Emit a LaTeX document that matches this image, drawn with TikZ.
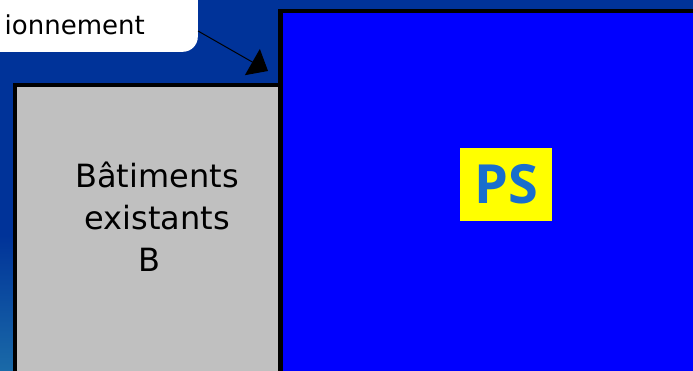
\documentclass[tikz,border=0pt]{standalone}
\usepackage{fontspec}
\setmainfont{DejaVu Sans}
\newfontfamily\signfont{Open Sans}
\usetikzlibrary{arrows.meta,positioning}

\definecolor{bgtop}{RGB}{0,51,153}
\definecolor{bgbot}{RGB}{26,106,168}
\definecolor{wallgrey}{RGB}{192,192,192}
\definecolor{plotblue}{RGB}{0,0,255}
\definecolor{signyellow}{RGB}{255,255,0}
\definecolor{signtext}{RGB}{25,110,205}

\begin{document}
\begin{tikzpicture}[
    x=1pt, y=-1pt,
    callbox/.style={fill=white, rounded corners=15pt, inner sep=0pt},
    bldg/.style={draw=black, line width=4.5pt, inner sep=0pt, outer sep=0pt},
    label text/.style={inner sep=0pt, font={\fontsize{26pt}{30pt}\selectfont}},
    bldg text/.style={inner sep=0pt, align=center, font={\fontsize{32pt}{42pt}\selectfont}},
    sign/.style={fill=signyellow, inner sep=0pt, text=signtext, font={\signfont\bfseries\fontsize{54pt}{60pt}\selectfont}},
    pointer/.style={-{Triangle[length=18pt,width=30pt]}, line width=1pt}
]

    \useasboundingbox (0,0) rectangle (693,371);
    \clip (0,0) rectangle (693,371);

    % 1. Background
    \fill[bgtop] (0,0) rectangle (693,236);
    \shade[top color=bgtop, bottom color=bgbot] (0,235) rectangle (693,371);

    % 2. Callout (top left)
    \node[callbox, minimum width=260pt, minimum height=90pt, anchor=south east] (callout) at (198,52) {};
    \node[label text, anchor=base east] (calltext) at (145,35) {ionnement};

    % 3. Existing buildings
    \node[bldg, fill=wallgrey, minimum width=266pt, minimum height=330pt, anchor=north west] (exist) at (15,85) {};
    \node[bldg text, anchor=base] (existtext) at (157,272) {B\^atiments\\existants\\\mbox{B\kern16pt}};

    % 4. Plot PS
    \node[bldg, fill=plotblue, minimum width=440pt, minimum height=400pt, anchor=north west] (plot) at (280.5,11) {};
    \node[sign, minimum width=92pt, minimum height=73pt] (ps) at (506,184.5) {PS};

    % 5. Connection
    \coordinate (tip) at (268,71);
    \draw[pointer] ([yshift=21pt]callout.south east) -- (tip);

\end{tikzpicture}
\end{document}
